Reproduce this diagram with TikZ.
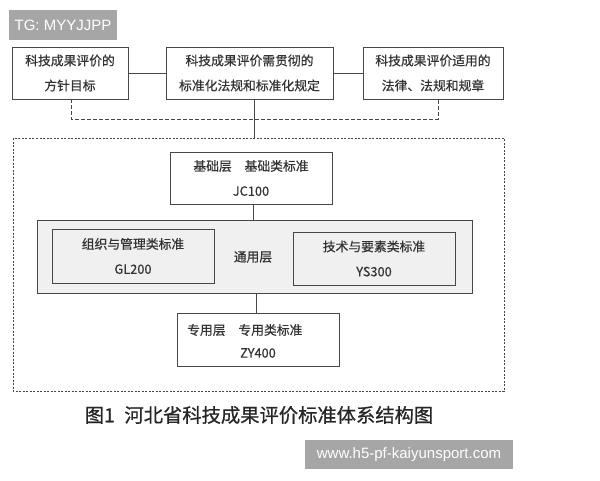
\documentclass[tikz,border=0pt]{standalone}
\usepackage{fontspec}
\setmainfont{Noto Sans CJK SC}
\newfontfamily\boxfont[FakeBold=0.6]{Noto Sans CJK SC}
\newfontfamily\capfont[FakeBold=0.8]{Noto Sans CJK SC}
\newfontfamily\markfont{Liberation Sans}
\colorlet{BoxLine}{black!72}
\colorlet{BoxText}{black!80}
\colorlet{LayerFill}{black!6}
\colorlet{MarkFill}{black!35}
\usetikzlibrary{calc, positioning}

\tikzset{
    box/.style={draw=BoxLine, line width=0.9pt, text=BoxText, align=center,
        inner sep=0pt, font=\boxfont\fontsize{12.8}{25}\selectfont},
    plain/.style={text=BoxText, inner sep=0pt, font=\boxfont\fontsize{12.8}{15}\selectfont},
    link/.style={draw=BoxLine, line width=0.9pt},
    dashlink/.style={draw=BoxLine, line width=0.9pt, dash pattern=on 3.5pt off 2.5pt},
    markbox/.style={fill=MarkFill, text=white, inner sep=0pt,
        font=\markfont\fontsize{15}{15}\selectfont},
}

\begin{document}
\begin{tikzpicture}[x=1pt, y=-1pt]

\useasboundingbox (0, 0) rectangle (600, 480);

% watermark top
\node[markbox, minimum width=108pt, minimum height=30pt] (tg) at (63, 25) {TG: MYYJJPP};

% top row
\node[box, minimum width=116pt, minimum height=52pt] (goal) at (70, 73)
    {科技成果评价的\\方针目标};
\node[box, minimum width=167pt, minimum height=52pt] (norm) at (249.5, 73)
    {科技成果评价需贯彻的\\标准化法规和标准化规定};
\node[box, minimum width=140pt, minimum height=52pt] (law) at (433, 73)
    {科技成果评价适用的\\法律、法规和规章};

\draw[link] (goal) -- (norm);
\draw[link] (norm) -- (law);

\coordinate (dl) at (71, 119);
\coordinate (dr) at (438, 119);
\draw[dashlink] (goal.south -| dl) -- (dl) -- (dr) -- (law.south -| dr);

% outer dashed frame
\draw[dashlink, dash pattern=on 2pt off 1.5pt] (13, 138) rectangle (504, 391);
\coordinate (frametop) at (254, 138);
\draw[link] (norm.south -| frametop) -- (frametop);

% base layer
\node[box, minimum width=162pt, minimum height=52pt] (base) at (251, 178)
    {基础层\quad 基础类标准\\JC100};

% common layer
\node[box, fill=LayerFill, minimum width=435pt, minimum height=73pt] (common) at (254.5, 256.5) {};
\node[box, fill=LayerFill, minimum width=162pt, minimum height=54pt] (org) at (133, 256)
    {组织与管理类标准\\GL200};
\node[box, fill=LayerFill, minimum width=162pt, minimum height=53pt] (tech) at (374, 258.5)
    {技术与要素类标准\\YS300};
\node[plain] (commonlabel) at (253, 257) {通用层};

\coordinate (basemid) at (253, 0);
\draw[link] (base.south -| basemid) -- (common.north -| basemid);

% special layer
\node[box, minimum width=162pt, minimum height=53pt] (special) at (258, 339.5) {};
\node[plain, anchor=west] (speciala) at (187, 330) {专用层\quad 专用类标准};
\node[plain] (specialb) at (258, 353) {ZY400};

\coordinate (commonmid) at (256, 0);
\draw[link] (common.south -| commonmid) -- (special.north -| commonmid);

% caption
\node[text=black!85, font=\capfont\fontsize{19.3}{20}\selectfont] (caption) at (259, 415)
    {图1\hspace{0.5em}河北省科技成果评价标准体系结构图};

% watermark bottom
\node[markbox, minimum width=208pt, minimum height=29pt] (site) at (409, 454.5)
    {www.h5-pf-kaiyunsport.com};

\end{tikzpicture}
\end{document}
